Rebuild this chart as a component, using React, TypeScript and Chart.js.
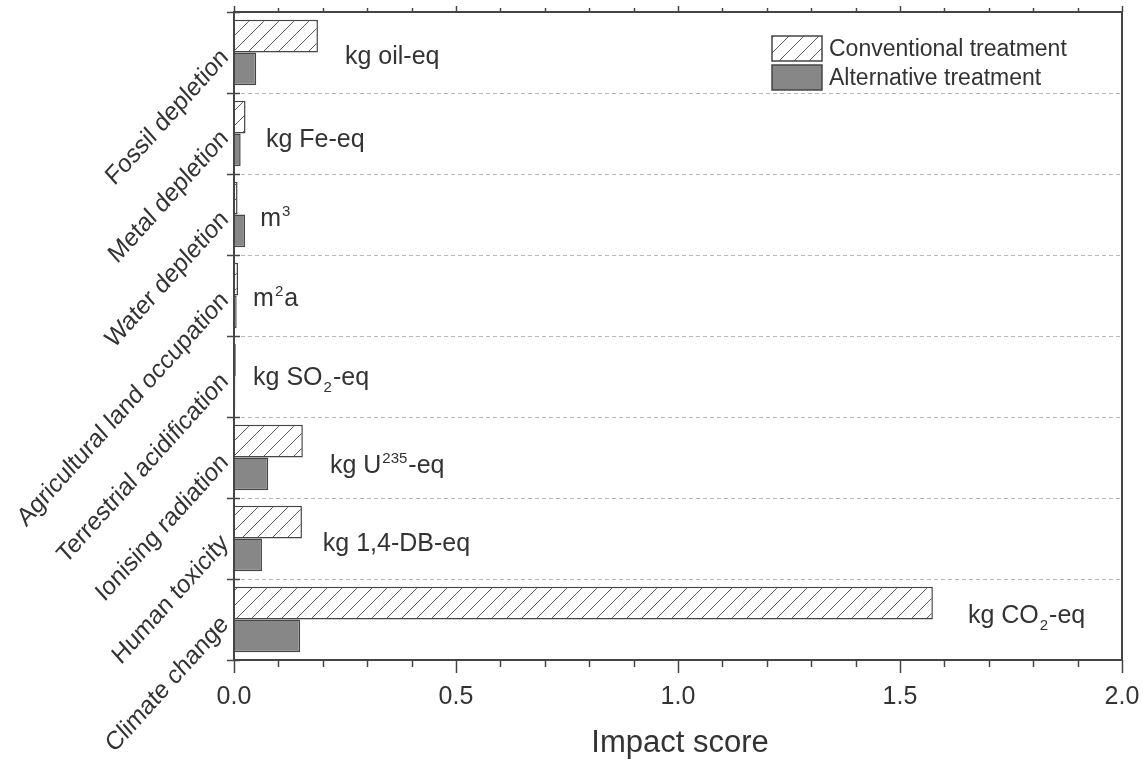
import React, { useEffect, useRef } from 'react';
import { Chart, registerables } from 'chart.js';

Chart.register(...registerables);

// ---------- data ----------
const categories = [
  'Fossil depletion',
  'Metal depletion',
  'Water depletion',
  'Agricultural land occupation',
  'Terrestrial acidification',
  'Ionising radiation',
  'Human toxicity',
  'Climate change',
];
const conventional = [0.189, 0.026, 0.008, 0.009, 0.004, 0.155, 0.153, 1.574];
const alternative = [0.05, 0.015, 0.025, 0.006, 0.003, 0.077, 0.063, 0.149];
const seriesNames = ['Conventional treatment', 'Alternative treatment'];
const xMajorTicks = [0, 0.5, 1.0, 1.5, 2.0];
const xTickLabels = ['0.0', '0.5', '1.0', '1.5', '2.0'];
const xMinorStep = 0.1;
const xTitle = 'Impact score';

// unit annotations: text pieces (n = normal, sup, sub)
const unitLabels: [string, string][][] = [
  [['kg oil-eq', 'n']],
  [['kg Fe-eq', 'n']],
  [['m', 'n'], ['3', 'sup']],
  [['m', 'n'], ['2', 'sup'], ['a', 'n']],
  [['kg SO', 'n'], ['2', 'sub'], ['-eq', 'n']],
  [['kg U', 'n'], ['235', 'sup'], ['-eq', 'n']],
  [['kg 1,4-DB-eq', 'n']],
  [['kg CO', 'n'], ['2', 'sub'], ['-eq', 'n']],
];
const unitX = [0.25, 0.072, 0.059, 0.043, 0.043, 0.216, 0.2, 1.653];
const unitYShift = [0.14, 0.17, 0.14, 0.13, 0.1, 0.19, 0.15, 0.04];

// ---------- style ----------
const FONT = '"Liberation Sans", Arial, Helvetica, sans-serif';
const TEXT = '#333333';
const LINE = '#454545';
const ALT_FILL = '#878787';

function makeHatch(ctx: CanvasRenderingContext2D, period: number) {
  const c = document.createElement('canvas');
  c.width = period;
  c.height = period;
  const g = c.getContext('2d')!;
  g.fillStyle = '#ffffff';
  g.fillRect(0, 0, period, period);
  g.strokeStyle = '#5c5c5c';
  g.lineWidth = 1;
  g.beginPath();
  g.moveTo(-1, period + 1);
  g.lineTo(period + 1, -1);
  g.moveTo(-1, 1);
  g.lineTo(1, -1);
  g.moveTo(period - 1, period + 1);
  g.lineTo(period + 1, period - 1);
  g.stroke();
  return ctx.createPattern(c, 'repeat')!;
}

function drawRich(ctx: CanvasRenderingContext2D, pieces: [string, string][], x: number, y: number) {
  let cx = x;
  for (const [t, kind] of pieces) {
    if (kind === 'n') {
      ctx.font = `25px ${FONT}`;
      ctx.fillText(t, cx, y);
    } else if (kind === 'sup') {
      ctx.font = `15px ${FONT}`;
      ctx.fillText(t, cx + 1, y - 10);
      cx += 2;
    } else {
      ctx.font = `15px ${FONT}`;
      ctx.fillText(t, cx + 1, y + 7);
      cx += 2;
    }
    cx += ctx.measureText(t).width;
  }
}

export default function App() {
  const ref = useRef<HTMLCanvasElement>(null);

  useEffect(() => {
    const canvas = ref.current!;
    const ctx0 = canvas.getContext('2d')!;
    const hatch = makeHatch(ctx0, 15);

    const decor = {
      id: 'decor',
      beforeDatasetsDraw(chart: any) {
        const { ctx, chartArea: a, scales } = chart;
        const y = scales.y;
        ctx.save();
        ctx.strokeStyle = '#b8b8b8';
        ctx.lineWidth = 1;
        ctx.setLineDash([4, 3]);
        for (let i = 1; i < categories.length; i++) {
          const py = Math.round(y.getPixelForValue(i - 0.5)) + 0.5;
          ctx.beginPath();
          ctx.moveTo(a.left, py);
          ctx.lineTo(a.right, py);
          ctx.stroke();
        }
        ctx.restore();
      },
      afterDraw(chart: any) {
        const { ctx, chartArea: a, scales } = chart;
        const x = scales.x;
        const y = scales.y;
        ctx.save();
        // frame
        ctx.strokeStyle = LINE;
        ctx.lineWidth = 2;
        ctx.strokeRect(a.left, a.top, a.right - a.left, a.bottom - a.top);

        // x ticks bottom & top
        ctx.lineWidth = 1.5;
        const nMinor = Math.round((x.max - x.min) / xMinorStep);
        for (let k = 0; k <= nMinor; k++) {
          const v = x.min + k * xMinorStep;
          const major = xMajorTicks.some((m) => Math.abs(m - v) < 1e-6);
          const px = Math.round(x.getPixelForValue(v)) + 0.5;
          ctx.beginPath();
          ctx.moveTo(px, a.bottom);
          ctx.lineTo(px, a.bottom + (major ? 13 : 7));
          ctx.moveTo(px, a.top);
          ctx.lineTo(px, a.top - (major ? 6 : 4));
          ctx.stroke();
        }
        // y ticks at category boundaries
        for (let i = 0; i <= categories.length; i++) {
          const py = Math.round(y.getPixelForValue(i - 0.5)) + 0.5;
          ctx.beginPath();
          ctx.moveTo(a.left - 7, py);
          ctx.lineTo(a.left + 6, py);
          ctx.stroke();
        }

        // x tick labels
        ctx.fillStyle = TEXT;
        ctx.font = `25px ${FONT}`;
        ctx.textAlign = 'center';
        ctx.textBaseline = 'alphabetic';
        xMajorTicks.forEach((v, i) => {
          ctx.fillText(xTickLabels[i], x.getPixelForValue(v), a.bottom + 44);
        });
        // x title
        ctx.font = `31px ${FONT}`;
        ctx.fillText(xTitle, (a.left + a.right) / 2 + 2, a.bottom + 92);

        // y labels rotated (slightly steeper, condensed)
        ctx.font = `26px ${FONT}`;
        ctx.textAlign = 'right';
        ctx.textBaseline = 'middle';
        categories.forEach((c, i) => {
          const py = y.getPixelForValue(i);
          ctx.save();
          ctx.translate(a.left - 9, py + 1);
          ctx.scale(0.9, 1);
          ctx.rotate(-Math.PI / 4);
          ctx.fillText(c, 0, 0);
          ctx.restore();
        });

        // unit annotations
        ctx.textAlign = 'left';
        ctx.textBaseline = 'alphabetic';
        unitLabels.forEach((pieces, i) => {
          drawRich(ctx, pieces, x.getPixelForValue(unitX[i]), y.getPixelForValue(i + unitYShift[i]));
        });

        // legend
        const lx = a.left + 538;
        const ly = a.top + 24;
        const bw = 50;
        const bh = 25;
        ctx.lineWidth = 1.5;
        ctx.fillStyle = hatch;
        ctx.fillRect(lx, ly, bw, bh);
        ctx.strokeStyle = LINE;
        ctx.strokeRect(lx, ly, bw, bh);
        ctx.fillStyle = ALT_FILL;
        ctx.fillRect(lx, ly + 29, bw, bh);
        ctx.strokeRect(lx, ly + 29, bw, bh);
        ctx.fillStyle = TEXT;
        ctx.font = `23px ${FONT}`;
        ctx.textBaseline = 'middle';
        ctx.fillText(seriesNames[0], lx + bw + 7, ly + bh / 2 + 1);
        ctx.fillText(seriesNames[1], lx + bw + 7, ly + 29 + bh / 2 + 1);
        ctx.restore();
      },
    };

    const chart = new Chart(canvas, {
      type: 'bar',
      data: {
        labels: categories,
        datasets: [
          {
            label: seriesNames[0],
            data: conventional,
            backgroundColor: hatch as any,
            borderColor: LINE,
            borderWidth: 1.5,
            categoryPercentage: 0.81,
            barPercentage: 1,
          },
          {
            label: seriesNames[1],
            data: alternative,
            backgroundColor: ALT_FILL,
            borderColor: LINE,
            borderWidth: 1.5,
            categoryPercentage: 0.81,
            barPercentage: 1,
          },
        ],
      },
      options: {
        indexAxis: 'y',
        responsive: false,
        devicePixelRatio: 1,
        animation: false,
        layout: { padding: { left: 0, right: 21, top: 12, bottom: 0 } },
        plugins: { legend: { display: false }, tooltip: { enabled: false } },
        scales: {
          x: {
            type: 'linear',
            min: 0,
            max: 2,
            ticks: { display: false },
            grid: { display: false },
            border: { display: false },
            afterFit: (s: any) => {
              s.height = 102;
            },
          },
          y: {
            type: 'category',
            offset: true,
            ticks: { display: false },
            grid: { display: false },
            border: { display: false },
            afterFit: (s: any) => {
              s.width = 234;
            },
          },
        },
      },
      plugins: [decor],
    });
    return () => chart.destroy();
  }, []);

  return (
    <div style={{ position: 'fixed', left: 0, top: 0, width: 1143, height: 762, background: '#fff' }}>
      <canvas ref={ref} width={1143} height={762} style={{ display: 'block', width: 1143, height: 762 }} />
    </div>
  );
}
